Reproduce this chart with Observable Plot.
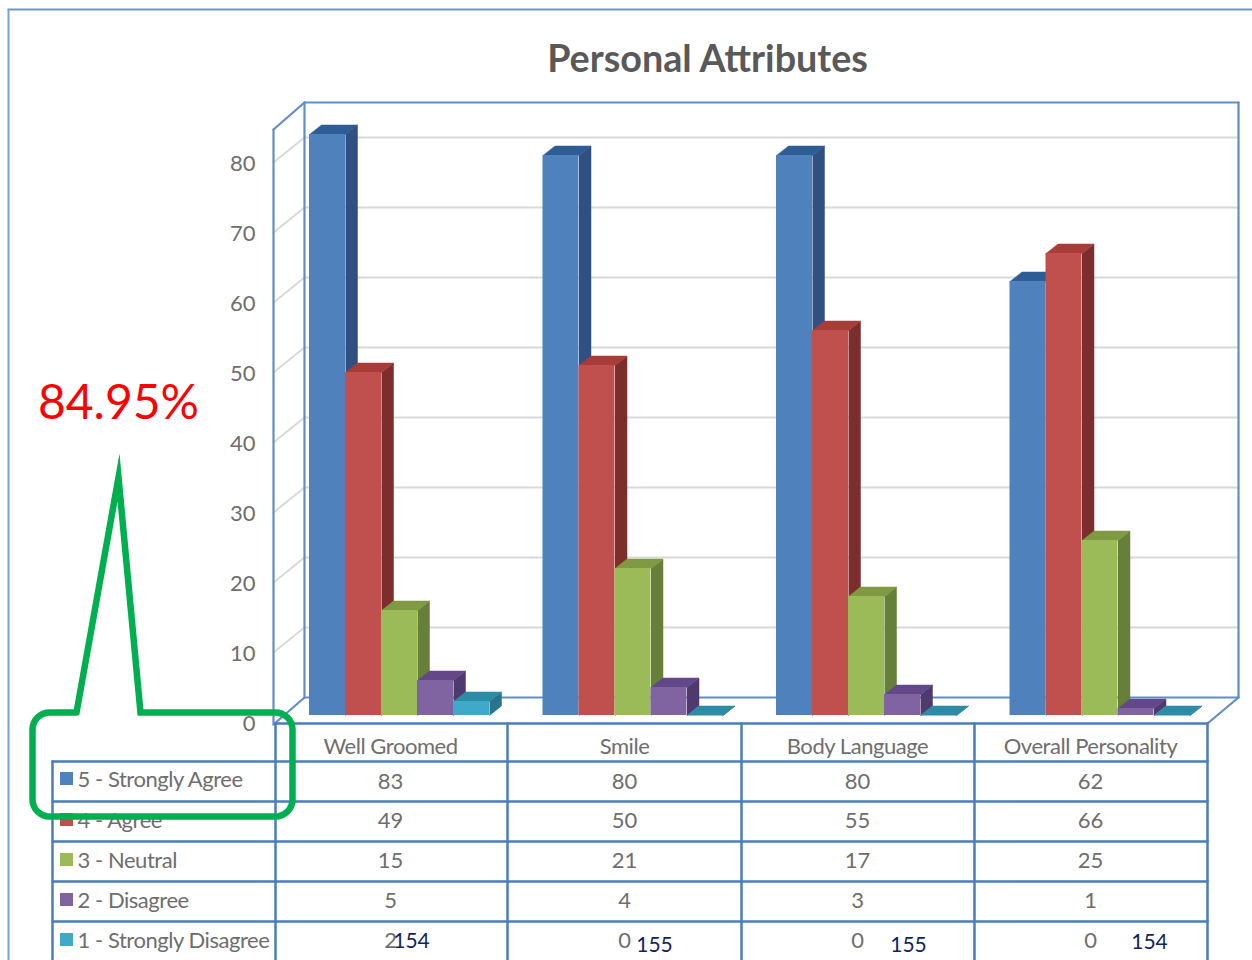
<!DOCTYPE html>
<html><head><meta charset="utf-8">
<script src="https://cdn.jsdelivr.net/npm/d3@7"></script>
<script src="https://cdn.jsdelivr.net/npm/@observablehq/plot@0.6"></script>
<style>html,body{margin:0;padding:0;background:#fff}svg{display:block}</style>
</head><body><div id="chart"></div>
<script>
const categories = ["Well Groomed", "Smile", "Body Language", "Overall Personality"];
const seriesNames = ["5 - Strongly Agree", "4 - Agree", "3 - Neutral", "2 - Disagree", "1 - Strongly Disagree"];
const stronglyAgree = [83, 80, 80, 62];
const agree = [49, 50, 55, 66];
const neutral = [15, 21, 17, 25];
const disagree = [5, 4, 3, 1];
const stronglyDisagree = [2, 0, 0, 0];
const seriesValues = [stronglyAgree, agree, neutral, disagree, stronglyDisagree];
const respondents = [154, 155, 155, 154];
const yTicks = [0, 10, 20, 30, 40, 50, 60, 70, 80];

const frontColors = ["#4f81bd", "#c0504d", "#9bbb59", "#8064a2", "#3fa9c9"];
const sideColors = ["#2f5080", "#7c2e2c", "#66803a", "#4e3a6e", "#28748c"];
const topColors = ["#2e5c94", "#a83c39", "#7f9a42", "#634889", "#2c8ba5"];

// Scale units: x counts bar widths from the first bar, y is the value axis.
const W = 1252, H = 960, barPx = 36, valPx = 7, x0 = 309, y0 = 715;
const ux = px => (px - x0) / barPx;
const uy = py => (y0 - py) / valPx;
const groupStep = ux(542.5);
const barW = 1;
const depthX = ux(x0 + 12), depthY = 9.5 / valPx;
const FONT = "Lato, 'Noto Sans', sans-serif";
const GREY = "#6e6e6e", WALL = "#5f8ec9", TABLE = "#4a7cbe", GRID = "#d9d9d9";

const bars = seriesValues.flatMap((vals, s) => vals.map((v, c) => ({
  s, c, v, l: c * groupStep + s * barW, r: c * groupStep + (s + 1) * barW
})));
bars.sort((a, b) => a.c - b.c || a.s - b.s);

const poly = (pts, fill) => Plot.line(pts, {x: "x", y: "y", fill, stroke: fill, strokeWidth: 0.5});
const seg = (a, b, stroke, strokeWidth) => Plot.line([{x: ux(a[0]), y: uy(a[1])}, {x: ux(b[0]), y: uy(b[1])}], {x: "x", y: "y", stroke, strokeWidth});

const barMarks = bars.flatMap(b => [
  poly([{x: b.r, y: 0}, {x: b.r + depthX, y: depthY}, {x: b.r + depthX, y: b.v + depthY}, {x: b.r, y: b.v}], sideColors[b.s]),
  poly([{x: b.l, y: b.v}, {x: b.l + depthX, y: b.v + depthY}, {x: b.r + depthX, y: b.v + depthY}, {x: b.r, y: b.v}], topColors[b.s]),
  Plot.rect([b], {x1: "l", x2: "r", y1: 0, y2: "v", fill: frontColors[b.s]})
]);

// Walls and gridlines
const wallFrontX = 273, wallBackX = 304, wallRightX = 1238, wallRightFrontX = 1207;
const gridBack = v => uy(697 - v * valPx), gridFront = v => uy(722 - v * valPx);
const gridMarks = yTicks.slice(1).flatMap(v => [
  Plot.line([{x: ux(wallFrontX), y: gridFront(v)}, {x: ux(wallBackX), y: gridBack(v)}, {x: ux(wallRightX), y: gridBack(v)}], {x: "x", y: "y", stroke: GRID, strokeWidth: 2})
]);
const wallMarks = [
  seg([wallBackX, 102], [wallRightX, 102], WALL, 2.2),
  seg([wallRightX, 102], [wallRightX, 697], WALL, 2.2),
  seg([wallBackX, 102], [wallBackX, 697], WALL, 2.2),
  seg([wallBackX, 697], [wallRightX, 697], WALL, 2.2),
  seg([wallFrontX, 129], [wallBackX, 102], WALL, 2.2),
  seg([wallFrontX, 129], [wallFrontX, 724], WALL, 2.2),
  seg([wallFrontX, 724], [wallBackX, 697], WALL, 2.2),
  seg([wallRightFrontX, 723], [wallRightX, 697], WALL, 2.2)
];

// Outer picture border
const borderMarks = [
  seg([8, 9], [1252, 9], "#6f95cb", 2),
  seg([8, 9], [8, 960], "#7ba0d4", 2)
];

// Data table
const colEdges = [275, 507, 741, 974, 1207];
const rowEdges = [761, 801, 841, 881, 921];
const colCenters = [390, 624, 857, 1090];
const rowCenters = [781, 820, 860, 900, 940];
const legendCenters = [779, 820, 860, 900, 940];
const tableMarks = [
  seg([275, 723], [1207, 723], TABLE, 2.5),
  ...rowEdges.map(y => seg([52, y], [1207, y], TABLE, 2.5)),
  ...colEdges.map(x => seg([x, 723], [x, 960], TABLE, 2.5)),
  seg([52, 761], [52, 960], TABLE, 2.5)
];
const cells = seriesValues.flatMap((vals, s) => vals.map((v, c) => ({x: ux(colCenters[c]), y: uy(rowCenters[s]), v})));
const txt = (data, o) => Plot.text(data, {x: "x", y: "y", text: "t", fontFamily: FONT, fill: GREY, fontSize: 22, lineAnchor: "middle", ...o});
const tight = (index, scales, values, dims, ctx, next) => {
  const g = next(index, scales, values, dims, ctx);
  g.style.letterSpacing = "-0.45px";
  return g;
};

const textMarks = [
  txt([{x: ux(707), y: uy(59), t: "Personal Attributes"}], {fontSize: 37.7, fontWeight: 700, fill: "#595959"}),
  txt(yTicks.map(v => ({x: ux(255), y: uy(723.5 - v * valPx), t: String(v)})), {textAnchor: "end"}),
  txt(categories.map((t, c) => ({x: ux(colCenters[c]), y: uy(746), t})), {render: tight}),
  txt(cells.map(d => ({...d, t: String(d.v)}))),
  Plot.rect(seriesNames.map((t, s) => s), {
    x1: () => ux(60), x2: () => ux(73),
    y1: s => uy(legendCenters[s] - 7), y2: s => uy(legendCenters[s] + 6),
    fill: s => frontColors[s]
  }),
  txt(seriesNames.map((t, s) => ({x: ux(77), y: uy(legendCenters[s]), t})), {textAnchor: "start", render: tight})
];

// Overlaid annotation
const arc = (cx, cy, r, a0, a1) => d3.range(0, 9).map(i => {
  const a = (a0 + (a1 - a0) * i / 8) * Math.PI / 180;
  return [cx + r * Math.cos(a), cy + r * Math.sin(a)];
});
const calloutPath = [
  [76, 712], [118, 477], [140, 712],
  ...arc(275, 729, 17, -90, 0),
  ...arc(275, 799, 17, 0, 90),
  ...arc(49, 799, 17, 90, 180),
  ...arc(49, 729, 17, 180, 270),
  [76, 712]
].map(([x, y]) => ({x: ux(x), y: uy(y)}));

const overlayX = [411, 654, 908, 1149], overlayY = [941, 945, 945, 942];
const overlayMarks = [
  Plot.line(calloutPath, {x: "x", y: "y", stroke: "#00b050", strokeWidth: 6.5, strokeLinejoin: "miter", strokeMiterlimit: 14}),
  txt([{x: ux(118), y: uy(403), t: "84.95%"}], {fontSize: 48, fill: "#ff0000"}),
  txt(respondents.map((v, c) => ({x: ux(overlayX[c]), y: uy(overlayY[c]), t: String(v)})), {fill: "#10245f", fontSize: 21})
];

const chart = Plot.plot({
  width: W, height: H,
  margin: 0,
  style: {background: "#fff", fontFamily: FONT},
  x: {axis: null, domain: [ux(0), ux(W)], range: [0, W]},
  y: {axis: null, domain: [uy(H), uy(0)], range: [H, 0]},
  marks: [...borderMarks, ...gridMarks, ...wallMarks, ...barMarks, ...tableMarks, ...textMarks, ...overlayMarks]
});
document.getElementById("chart").append(chart);
</script></body></html>
